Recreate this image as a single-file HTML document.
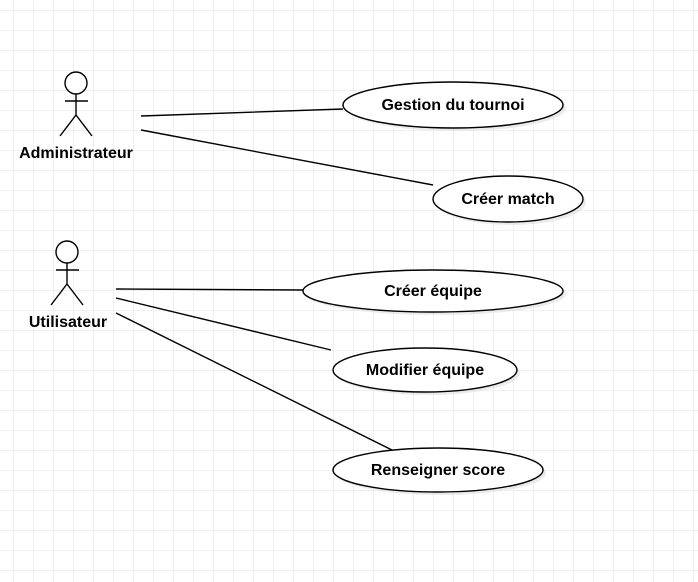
<!DOCTYPE html>
<html><head><style>
html,body{margin:0;padding:0;background:#fff;}
svg{display:block;}
text{font-family:"Liberation Sans",Arial,sans-serif;font-weight:bold;font-size:16px;fill:#000;}
</style></head><body>
<svg width="698" height="582" xmlns="http://www.w3.org/2000/svg">
<defs>
<pattern id="g" x="13" y="10" width="20" height="20" patternUnits="userSpaceOnUse">
<path d="M0 0H20M0 0V20" stroke="#e2e2e2" stroke-width="1" fill="none"/>
</pattern>
</defs>
<rect width="698" height="582" fill="url(#g)"/>
<g stroke="#000" stroke-width="1.4" fill="none">
<circle cx="76" cy="83" r="11" fill="#fff"/>
<path d="M76 94V115M65 101H88M60 136L76 115L92 136"/>
<circle cx="67" cy="252" r="11" fill="#fff"/>
<path d="M67 263V284M56 270H79M51 305L67 284L83 305"/>
<path d="M141 116L343 109M141 130L433 185M116 289L303 290M116 298L331 350M116 313L392 450"/>
</g>
<text x="76" y="158" text-anchor="middle">Administrateur</text>
<text x="68" y="327" text-anchor="middle">Utilisateur</text>
<g stroke="#000" stroke-width="1.4" fill="#fff">
<ellipse cx="456" cy="108" rx="110" ry="23" fill="#ddd" stroke="none" opacity=".6"/>
<ellipse cx="453" cy="105" rx="110" ry="23"/>
<ellipse cx="511" cy="202" rx="75" ry="23" fill="#ddd" stroke="none" opacity=".6"/>
<ellipse cx="508" cy="199" rx="75" ry="23"/>
<ellipse cx="436" cy="294" rx="130" ry="21" fill="#ddd" stroke="none" opacity=".6"/>
<ellipse cx="433" cy="291" rx="130" ry="21"/>
<ellipse cx="428" cy="373" rx="92" ry="22" fill="#ddd" stroke="none" opacity=".6"/>
<ellipse cx="425" cy="370" rx="92" ry="22"/>
<ellipse cx="441" cy="473" rx="105" ry="22" fill="#ddd" stroke="none" opacity=".6"/>
<ellipse cx="438" cy="470" rx="105" ry="22"/>
</g>
<text x="453" y="110" text-anchor="middle">Gestion du tournoi</text>
<text x="508" y="204" text-anchor="middle">Créer match</text>
<text x="433" y="296" text-anchor="middle">Créer équipe</text>
<text x="425" y="375" text-anchor="middle">Modifier équipe</text>
<text x="438" y="475" text-anchor="middle">Renseigner score</text>
</svg>
</body></html>
